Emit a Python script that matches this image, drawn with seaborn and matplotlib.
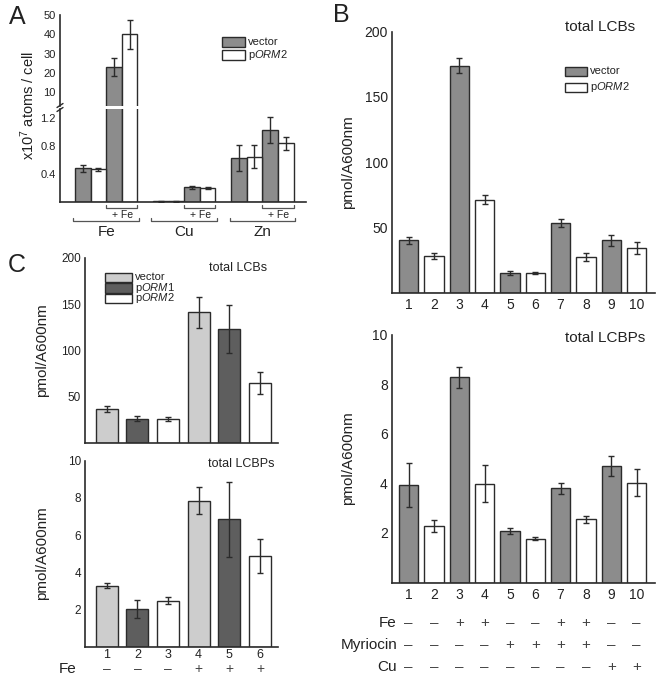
import numpy as np
import pandas as pd
import matplotlib
matplotlib.use('Agg')
import matplotlib.pyplot as plt
import seaborn as sns
from matplotlib.patches import Rectangle
from matplotlib.lines import Line2D
from matplotlib.transforms import blended_transform_factory
from matplotlib.ticker import MultipleLocator

# ---- panel A: metal content (x10^7 atoms / cell) ----
metals = ['Fe', 'Cu', 'Zn']
a_strain = ['vector', 'pORM2', 'vector', 'pORM2'] * 3
a_vals = [0.48, 0.47, 23.0, 40.0,
          0.01, 0.01, 0.21, 0.20,
          0.63, 0.65, 1.03, 0.84]
a_err = [0.05, 0.02, 4.8, 7.5,
         0.004, 0.004, 0.02, 0.02,
         0.19, 0.17, 0.19, 0.09]

# ---- panel B ----
b_lanes = [str(i) for i in range(1, 11)]
b_strain = ['vector', 'pORM2'] * 5
b_lcb = [40, 28, 174, 71, 15, 15, 53, 27, 40, 34]
b_lcb_err = [2.5, 2.5, 6, 3.5, 1.5, 0.7, 3, 3.2, 4, 4.5]
b_lcbp = [3.93, 2.28, 8.28, 3.98, 2.08, 1.77, 3.80, 2.55, 4.70, 4.02]
b_lcbp_err = [0.9, 0.25, 0.42, 0.75, 0.12, 0.07, 0.22, 0.15, 0.4, 0.55]
b_fe = ['-', '-', '+', '+', '-', '-', '+', '+', '-', '-']
b_myr = ['-', '-', '-', '-', '+', '+', '+', '+', '-', '-']
b_cu = ['-', '-', '-', '-', '-', '-', '-', '-', '+', '+']

# ---- panel C ----
c_lanes = ['1', '2', '3', '4', '5', '6']
c_strain = ['vector', 'pORM1', 'pORM2'] * 2
c_lcb = [37, 26.5, 26, 141, 123, 65]
c_lcb_err = [3, 2.5, 2, 17, 25.5, 11.5]
c_lcbp = [3.28, 2.02, 2.47, 7.85, 6.85, 4.85]
c_lcbp_err = [0.15, 0.48, 0.17, 0.72, 2.02, 0.92]
c_fe = ['-', '-', '-', '+', '+', '+']

sns.set_style('white')
plt.rcParams['font.family'] = ['Liberation Sans', 'DejaVu Sans']
plt.rcParams['mathtext.fontset'] = 'custom'
plt.rcParams['mathtext.rm'] = 'Liberation Sans'
plt.rcParams['mathtext.it'] = 'Liberation Sans:italic'

W, H = 664, 682
fig = plt.figure(figsize=(W / 100, H / 100), dpi=100)

TXT = '#222222'
EDGE = '#2b2b2b'
pal_ab = {'vector': '#8c8c8c', 'pORM2': 'white'}
pal_c = {'vector': '#cdcdcd', 'pORM1': '#5e5e5e', 'pORM2': 'white'}
sign = {'-': '\u2013', '+': '+'}
labels = {'vector': 'vector', 'pORM1': 'p$\\mathit{ORM1}$', 'pORM2': 'p$\\mathit{ORM2}$'}


def px_axes(left, top, right, bottom):
    return fig.add_axes([left / W, 1 - bottom / H, (right - left) / W, (bottom - top) / H])


def fx(x):
    return x / W


def fy(y):
    return 1 - y / H


def style(ax, labelsize, bottom=True):
    sns.despine(ax=ax, top=True, right=True)
    for s in ['left', 'bottom']:
        ax.spines[s].set_linewidth(1.2)
        ax.spines[s].set_color(EDGE)
    if not bottom:
        ax.spines['bottom'].set_visible(False)
    ax.tick_params(axis='y', which='major', direction='in', length=4, width=1,
                   labelsize=labelsize, colors=EDGE, labelcolor=TXT, pad=3)
    ax.tick_params(axis='y', which='minor', direction='in', length=2.5, width=0.9, colors=EDGE)
    ax.tick_params(axis='x', length=0, labelsize=labelsize, labelcolor=TXT, pad=4)
    ax.set_xlabel('')
    ax.set_ylabel('')
    ax.patch.set_alpha(0)


def bars(ax, x, y, err, hue, pal, width, native=False):
    sns.barplot(x=x, y=y, hue=hue, palette=pal, dodge=False, width=width,
                native_scale=native, errorbar=None, edgecolor=EDGE, linewidth=1.0,
                legend=False, ax=ax)
    pos = x if native else np.arange(len(x))
    ax.errorbar(pos, y, yerr=err, fmt='none', ecolor=EDGE, elinewidth=1.0,
                capsize=2.5, capthick=1.0, zorder=5)


def legend_boxes(x0, y0, w, h, step, keys, pal, size):
    for i, k in enumerate(keys):
        fig.patches.append(Rectangle((fx(x0), fy(y0 + i * step + h)), w / W, h / H,
                                     transform=fig.transFigure, facecolor=pal[k],
                                     edgecolor=EDGE, linewidth=1.0))
        fig.text(fx(x0 + w + 3), fy(y0 + i * step + h / 2), labels[k], fontsize=size,
                 color=TXT, va='center', ha='left')


# ================= panel A =================
a_pos = [g * 5 + j for g in range(3) for j in range(4)]
ax_up = px_axes(60, 15, 306, 106)
ax_lo = px_axes(60, 109, 306, 202)
for ax in (ax_up, ax_lo):
    bars(ax, a_pos, a_vals, a_err, a_strain, pal_ab, 1.0, native=True)
    ax.set_xlim(-1.46, 14.3)
    ax.set_xticks([])
ax_up.set_ylim(2.73, 50)
ax_up.set_yticks([10, 20, 30, 40, 50])
ax_up.yaxis.set_minor_locator(MultipleLocator(5))
ax_lo.set_ylim(0, 1.33)
ax_lo.set_yticks([0.4, 0.8, 1.2])
ax_lo.yaxis.set_minor_locator(MultipleLocator(0.2))
style(ax_up, 8, bottom=False)
style(ax_lo, 8)

# axis break marks
for yy in (105.5, 109.5):
    fig.add_artist(Line2D([fx(57), fx(63)], [fy(yy + 2), fy(yy - 2)], color=EDGE, lw=1.0))

fig.text(fx(28), fy(106), 'x10$^7$ atoms / cell', rotation=90, ha='center', va='center',
         fontsize=10.5, color=TXT)

# brackets under panel A
bt = blended_transform_factory(ax_lo.transData, fig.transFigure)
for g, m in enumerate(metals):
    x0 = g * 5
    ax_lo.add_line(Line2D([x0 + 1.5, x0 + 1.5, x0 + 3.5, x0 + 3.5],
                          [fy(205), fy(208), fy(208), fy(205)], transform=bt,
                          color='#555555', lw=0.9, clip_on=False))
    ax_lo.text(x0 + 2.55, fy(215.5), '+ Fe', transform=bt, ha='center', va='center',
               fontsize=7.5, color=TXT)
    ax_lo.add_line(Line2D([x0 - 0.6, x0 - 0.6, x0 + 3.6, x0 + 3.6],
                          [fy(218), fy(221.5), fy(221.5), fy(218)], transform=bt,
                          color='#555555', lw=0.9, clip_on=False))
    ax_lo.text(x0 + 1.5, fy(232), m, transform=bt, ha='center', va='center',
               fontsize=11, color=TXT)

legend_boxes(222, 37, 23, 9.5, 13, ['vector', 'pORM2'], pal_ab, 8)

# ================= panel B =================
ax_b1 = px_axes(392, 31.7, 655, 292.5)
bars(ax_b1, b_lanes, b_lcb, b_lcb_err, b_strain, pal_ab, 0.76)
ax_b1.set_xlim(-0.66, 9.73)
ax_b1.set_ylim(0, 200)
ax_b1.set_yticks([50, 100, 150, 200])
ax_b1.yaxis.set_minor_locator(MultipleLocator(25))
style(ax_b1, 10)
ax_b1.set_ylabel('pmol/A600nm', fontsize=11, color=TXT)
ax_b1.yaxis.set_label_coords(-0.14, 0.5)
fig.text(fx(635), fy(27), 'total LCBs', ha='right', va='center', fontsize=11, color=TXT)
legend_boxes(565, 67, 22, 8.5, 16, ['vector', 'pORM2'], pal_ab, 8)

ax_b2 = px_axes(392, 334.5, 655, 582.5)
bars(ax_b2, b_lanes, b_lcbp, b_lcbp_err, b_strain, pal_ab, 0.76)
ax_b2.set_xlim(-0.66, 9.73)
ax_b2.set_ylim(0, 10)
ax_b2.set_yticks([2, 4, 6, 8, 10])
ax_b2.yaxis.set_minor_locator(MultipleLocator(1))
style(ax_b2, 10)
ax_b2.set_ylabel('pmol/A600nm', fontsize=11, color=TXT)
ax_b2.yaxis.set_label_coords(-0.14, 0.5)
fig.text(fx(645), fy(338), 'total LCBPs', ha='right', va='center', fontsize=11, color=TXT)

tb = blended_transform_factory(ax_b2.transData, fig.transFigure)
for row, (name, vals) in enumerate([('Fe', b_fe), ('Myriocin', b_myr), ('Cu', b_cu)]):
    yy = fy(623 + row * 22)
    fig.text(fx(397), yy, name, ha='right', va='center', fontsize=11, color=TXT)
    for i, v in enumerate(vals):
        ax_b2.text(i, yy, sign[v], transform=tb, ha='center', va='center',
                   fontsize=11, color='#444444')

# ================= panel C =================
ax_c1 = px_axes(85, 257.7, 278, 443.3)
bars(ax_c1, c_lanes, c_lcb, c_lcb_err, c_strain, pal_c, 0.72)
ax_c1.set_xlim(-0.71, 5.59)
ax_c1.set_ylim(0, 200)
ax_c1.set_yticks([50, 100, 150, 200])
ax_c1.yaxis.set_minor_locator(MultipleLocator(25))
style(ax_c1, 8.5)
ax_c1.set_xticks([])
ax_c1.set_ylabel('pmol/A600nm', fontsize=11, color=TXT)
ax_c1.yaxis.set_label_coords(-0.187, 0.5)
fig.text(fx(267), fy(268), 'total LCBs', ha='right', va='center', fontsize=9, color=TXT)
legend_boxes(105, 272.7, 27, 9.5, 10.5, ['vector', 'pORM1', 'pORM2'], pal_c, 8)

ax_c2 = px_axes(85, 460.7, 278, 646.5)
bars(ax_c2, c_lanes, c_lcbp, c_lcbp_err, c_strain, pal_c, 0.72)
ax_c2.set_xlim(-0.71, 5.59)
ax_c2.set_ylim(0, 10)
ax_c2.set_yticks([2, 4, 6, 8, 10])
ax_c2.yaxis.set_minor_locator(MultipleLocator(1))
style(ax_c2, 8.5)
ax_c2.tick_params(axis='x', pad=2, labelsize=9)
ax_c2.set_ylabel('pmol/A600nm', fontsize=11, color=TXT)
ax_c2.yaxis.set_label_coords(-0.187, 0.5)
fig.text(fx(275), fy(464), 'total LCBPs', ha='right', va='center', fontsize=9, color=TXT)

tc = blended_transform_factory(ax_c2.transData, fig.transFigure)
fig.text(fx(68), fy(669), 'Fe', ha='center', va='center', fontsize=11, color=TXT)
for i, v in enumerate(c_fe):
    ax_c2.text(i, fy(669), sign[v], transform=tc, ha='center', va='center',
               fontsize=10, color='#444444')

# panel letters
fig.text(fx(17), fy(17), 'A', fontsize=18, ha='center', va='center', color=TXT)
fig.text(fx(341), fy(15), 'B', fontsize=18, ha='center', va='center', color=TXT)
fig.text(fx(17), fy(265), 'C', fontsize=18, ha='center', va='center', color=TXT)

fig.savefig('out.png', dpi=100, facecolor='white')
